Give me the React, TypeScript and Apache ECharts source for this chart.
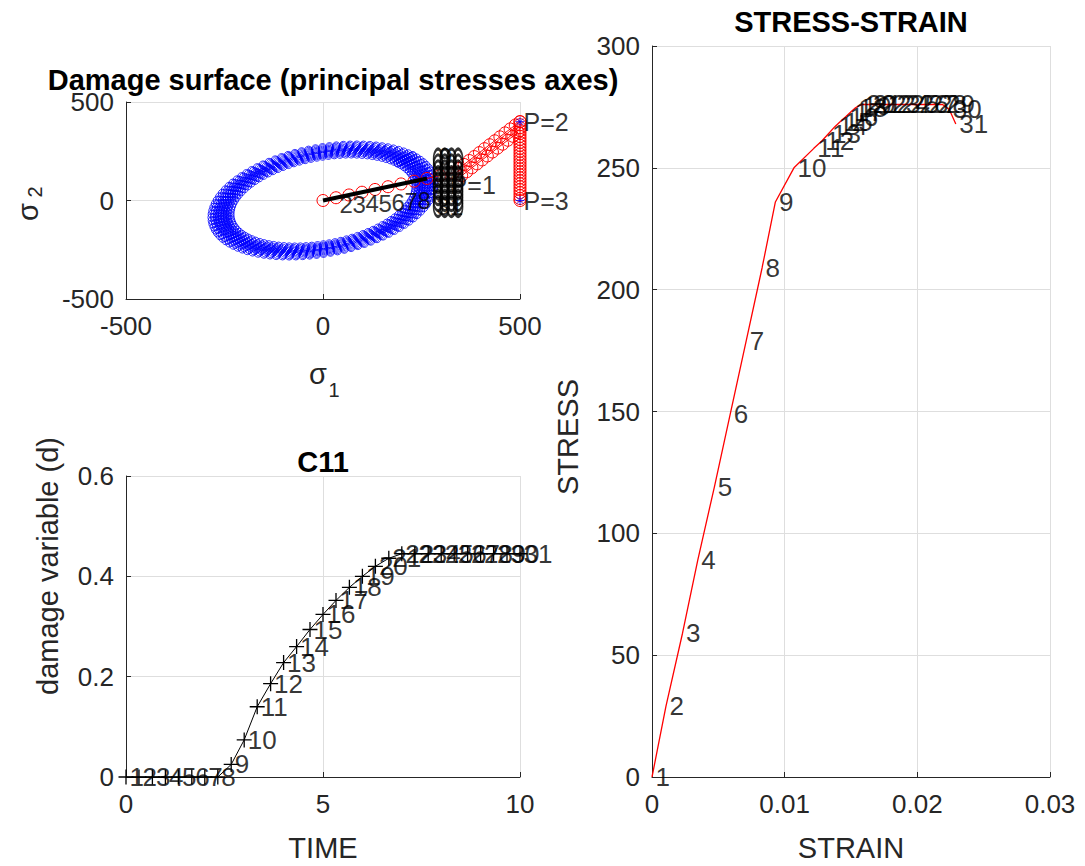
import React, { useEffect, useRef } from "react";
import * as echarts from "echarts";

const FONT = '"Liberation Sans", Arial, Helvetica, sans-serif';
const AXIS_COLOR = "#262626";
const GRID_COLOR = "#dedede";

// ---------- Damage surface (principal stress axes) ----------
// radii of the successive damage surfaces (energy norm ellipses)
const surfaceRadii = [225, 232, 238, 244, 250, 256, 263, 269];
const poisson = 0.3;
const surfacePoints = 100;

// loading path: origin -> P=1 (red circles, black line on top)
const loadS1 = [0, 33, 66, 99, 132, 165, 198, 231, 264, 297, 330];
const loadS2 = [0, 14, 28, 42, 56, 70, 84, 98, 112, 126, 140];
// P=1 -> P=2, two rows of red circles
const diagAS1 = [345, 358, 371, 384, 397, 410, 423, 436, 449, 462, 475, 488, 500];
const diagAS2 = [163, 183, 203, 223, 243, 263, 283, 303, 323, 343, 363, 383, 400];
const diagBS1 = [352, 365, 378, 391, 404, 417, 430, 443, 456, 469, 482, 495];
const diagBS2 = [126, 146, 166, 186, 206, 226, 246, 266, 286, 306, 326, 346];
// P=2 -> P=3
const vertS2 = [400, 385, 370, 355, 340, 325, 310, 295, 280, 265, 250, 235, 220, 205, 190, 175, 160, 145, 130, 115, 100, 85, 70, 55, 40, 25, 10, 0];
// black blob of overlapping step markers
const blobS1 = [292, 309, 326, 343];
const blobS2 = [-30, 0, 30, 60, 90, 120, 150, 180, 210];
// step labels on the surface plot
const surfLabelText = ["2", "3", "4", "5", "6", "7", "8", "9", "31"];
const surfLabelS1 = [33, 66, 99, 132, 165, 198, 231, 285, 279];
const surfLabelS2 = [-20, -19, -17, -14, -10, -5, 0, 225, -30];
const pointNames = ["P=1", "P=2", "P=3"];
const pointS1 = [315, 500, 500];
const pointS2 = [81, 400, 0];

// ---------- C11 damage variable ----------
const timeValues = [0, 0.33, 0.67, 1, 1.33, 1.67, 2, 2.33, 2.67, 3, 3.33, 3.67, 4, 4.33, 4.67, 5, 5.33, 5.67, 6, 6.33, 6.67, 7, 7.33, 7.67, 8, 8.33, 8.67, 9, 9.33, 9.67, 10];
const damageValues = [0, 0, 0, 0, 0, 0, 0, 0, 0.025, 0.074, 0.14, 0.186, 0.228, 0.26, 0.294, 0.324, 0.352, 0.378, 0.4, 0.42, 0.436, 0.445, 0.445, 0.445, 0.445, 0.445, 0.445, 0.445, 0.445, 0.445, 0.445];

// ---------- STRESS-STRAIN ----------
const strainValues = [0, 0.00105, 0.0023, 0.00345, 0.0047, 0.0059, 0.0071, 0.0083, 0.0093, 0.0107, 0.0122, 0.0128, 0.0133, 0.0138, 0.0142, 0.0146, 0.015, 0.0153, 0.0156, 0.0159, 0.0164, 0.0171, 0.0178, 0.0185, 0.0192, 0.0199, 0.0206, 0.0213, 0.0219, 0.0224, 0.0229];
const stressValues = [0, 29, 59, 89, 119, 149, 179, 209, 236, 250, 258, 261, 264, 267, 269, 271, 273, 274.5, 275.5, 276, 276, 276, 276, 276, 276, 276, 276, 276, 276, 274, 268];

const stepNames = strainValues.map((_, i) => String(i + 1));

function surfaceCurve(R: number) {
  const a = R / Math.sqrt(1 - poisson);
  const b = R / Math.sqrt(1 + poisson);
  const pts: number[][] = [];
  for (let k = 0; k <= surfacePoints; k++) {
    const t = (2 * Math.PI * k) / surfacePoints;
    const u = a * Math.cos(t);
    const v = b * Math.sin(t);
    pts.push([(u + v) / Math.SQRT2, (u - v) / Math.SQRT2]);
  }
  return pts;
}

function axis(extra: any) {
  return {
    type: "value",
    axisLine: { show: true, onZero: false, lineStyle: { color: AXIS_COLOR, width: 1 } },
    axisTick: { show: true, inside: true, length: 5, lineStyle: { color: AXIS_COLOR } },
    axisLabel: { color: AXIS_COLOR, fontSize: 26, fontFamily: FONT, margin: 12 },
    splitLine: { show: true, lineStyle: { color: GRID_COLOR, width: 1 } },
    ...extra,
  };
}

function labelSeries(idx: number, xs: number[], ys: number[], texts: string[], size: number, z: number) {
  return {
    type: "scatter",
    xAxisIndex: idx,
    yAxisIndex: idx,
    symbol: "circle",
    symbolSize: 1,
    silent: true,
    clip: false,
    z,
    itemStyle: { color: "rgba(0,0,0,0)" },
    label: { show: true, position: "right", distance: 3, color: "#000", fontSize: size, fontFamily: FONT },
    labelLayout: { hideOverlap: false },
    data: xs.map((x, i) => ({ value: [x, ys[i]], label: { formatter: texts[i] } })),
  };
}

function redCircles(xs: number[], ys: number[]) {
  return {
    type: "line",
    xAxisIndex: 0,
    yAxisIndex: 0,
    clip: false,
    z: 3,
    symbol: "circle",
    symbolSize: 12,
    showSymbol: true,
    itemStyle: { color: "rgba(0,0,0,0)", borderColor: "#ff0000", borderWidth: 1 },
    lineStyle: { color: "#ff0000", width: 1 },
    data: xs.map((x, i) => [x, ys[i]]),
  };
}

export default function App() {
  const ref = useRef<HTMLDivElement>(null);
  useEffect(() => {
    document.body.style.margin = "0";
    const chart = echarts.init(ref.current!, null, { renderer: "svg" });

    const series: any[] = [];
    surfaceRadii.forEach((R) => {
      series.push({
        type: "line",
        xAxisIndex: 0,
        yAxisIndex: 0,
        clip: false,
        z: 2,
        symbol: "circle",
        symbolSize: 8,
        showSymbol: true,
        itemStyle: { color: "rgba(0,0,0,0)", borderColor: "#0000ff", borderWidth: 0.8 },
        lineStyle: { color: "#0000ff", width: 0 },
        data: surfaceCurve(R),
      });
    });
    series.push(redCircles(loadS1, loadS2));
    series.push(redCircles(diagAS1, diagAS2));
    series.push(redCircles(diagBS1, diagBS2));
    series.push(redCircles(vertS2.map(() => 500), vertS2));
    series.push({
      type: "line",
      xAxisIndex: 0,
      yAxisIndex: 0,
      clip: false,
      z: 4,
      showSymbol: false,
      lineStyle: { color: "#000", width: 4 },
      data: loadS1.slice(0, 9).map((x, i) => [x, loadS2[i]]),
    });
    series.push({
      type: "scatter",
      xAxisIndex: 0,
      yAxisIndex: 0,
      clip: false,
      z: 4,
      symbol: "path://M5,0L5,10M0,5L10,5M1.5,1.5L8.5,8.5M8.5,1.5L1.5,8.5",
      symbolSize: 9,
      itemStyle: { color: "rgba(0,0,0,0)", borderColor: "#0000ff", borderWidth: 1 },
      data: [[500, 400], [500, 0]],
    });
    series.push(labelSeries(0, surfLabelS1, surfLabelS2, surfLabelText, 24, 5));
    series.push(labelSeries(0, pointS1, pointS2, pointNames, 25, 5));
    const blob: number[][] = [];
    blobS1.forEach((x) => blobS2.forEach((y) => blob.push([x, y])));
    series.push({
      type: "scatter",
      xAxisIndex: 0,
      yAxisIndex: 0,
      clip: false,
      z: 6,
      symbol: "circle",
      symbolSize: [9, 20],
      itemStyle: { color: "rgba(0,0,0,0)", borderColor: "#000", borderWidth: 2.2 },
      data: blob,
    });

    // C11
    series.push({
      type: "line",
      xAxisIndex: 1,
      yAxisIndex: 1,
      clip: false,
      z: 3,
      symbol: "path://M5,0L5,10M0,5L10,5",
      symbolSize: 15,
      showSymbol: true,
      itemStyle: { color: "rgba(0,0,0,0)", borderColor: "#000", borderWidth: 1.3 },
      lineStyle: { color: "#000", width: 1 },
      data: timeValues.map((t, i) => [t, damageValues[i]]),
    });
    series.push(labelSeries(1, timeValues, damageValues, stepNames, 26, 4));

    // stress-strain
    series.push({
      type: "line",
      xAxisIndex: 2,
      yAxisIndex: 2,
      clip: false,
      z: 3,
      showSymbol: false,
      lineStyle: { color: "#ff0000", width: 1.3 },
      data: strainValues.map((e, i) => [e, stressValues[i]]),
    });
    series.push(labelSeries(2, strainValues, stressValues, stepNames, 26, 4));

    const txt = (text: string, x: number, y: number, size: number, bold = false, rotation = 0) => ({
      type: "text",
      x,
      y,
      rotation,
      z: 10,
      style: {
        text,
        fill: bold ? "#000" : AXIS_COLOR,
        font: `${bold ? "bold " : ""}${size}px ${FONT}`,
        textAlign: "center",
        textVerticalAlign: "middle",
      },
    });

    chart.setOption({
      animation: false,
      backgroundColor: "#fff",
      textStyle: { fontFamily: FONT },
      grid: [
        { left: 126, top: 102, width: 394, height: 197 },
        { left: 126, top: 476, width: 394, height: 301 },
        { left: 652, top: 46, width: 398, height: 731 },
      ],
      xAxis: [
        axis({ gridIndex: 0, min: -500, max: 500, interval: 500, axisLabel: { color: AXIS_COLOR, fontSize: 26, fontFamily: FONT, margin: 14 } }),
        axis({ gridIndex: 1, min: 0, max: 10, interval: 5, axisLabel: { color: AXIS_COLOR, fontSize: 26, fontFamily: FONT, margin: 14 } }),
        axis({
          gridIndex: 2, min: 0, max: 0.03, interval: 0.01,
          axisLabel: { color: AXIS_COLOR, fontSize: 26, fontFamily: FONT, margin: 14, formatter: (v: number) => (v === 0 ? "0" : String(+v.toFixed(2))) },
        }),
      ],
      yAxis: [
        axis({ gridIndex: 0, min: -500, max: 500, interval: 500 }),
        axis({
          gridIndex: 1, min: 0, max: 0.6, interval: 0.2,
          axisLabel: { color: AXIS_COLOR, fontSize: 26, fontFamily: FONT, margin: 12, formatter: (v: number) => (v === 0 ? "0" : String(+v.toFixed(1))) },
        }),
        axis({ gridIndex: 2, min: 0, max: 300, interval: 50 }),
      ],
      graphic: [
        txt("Damage surface (principal stresses axes)", 333, 80, 29, true),
        txt("C11", 323, 462, 29, true),
        txt("STRESS-STRAIN", 851, 22, 29, true),
        txt("σ", 318, 374, 29),
        txt("1", 334, 390, 20),
        txt("σ", 28, 212, 29, false, Math.PI / 2),
        txt("2", 35, 192, 20, false, Math.PI / 2),
        txt("TIME", 323, 848, 29),
        txt("damage variable (d)", 48, 566, 29, false, Math.PI / 2),
        txt("STRAIN", 851, 848, 29),
        txt("STRESS", 568, 437, 29, false, Math.PI / 2),
      ],
      series,
    });
    return () => chart.dispose();
  }, []);
  return <div ref={ref} style={{ width: 1085, height: 866 }} />;
}
